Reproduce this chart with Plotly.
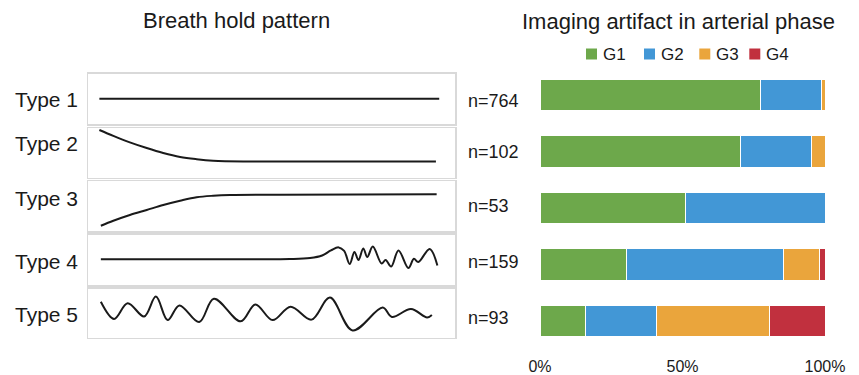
import plotly.graph_objects as go

W, H = 859, 375

# ---------------- data ----------------
types = ["Type 1", "Type 2", "Type 3", "Type 4", "Type 5"]
counts = ["n=764", "n=102", "n=53", "n=159", "n=93"]
grades = ["G1", "G2", "G3", "G4"]

# percentage of each artifact grade per breath-hold type
g1 = [77.4, 70.5, 50.9, 30.2, 16.0]
g2 = [21.2, 24.7, 49.1, 55.4, 24.7]
g3 = [1.4, 4.8, 0.0, 12.5, 39.8]
g4 = [0.0, 0.0, 0.0, 1.9, 19.5]
pct_ticks = [0, 50, 100]

# breath-hold patterns (time as % of acquisition, normalised amplitude)
t1_x = [3.1, 95.7]
t1_y = [0.0, 0.0]
t2_x = [3.1, 6.9, 11.4, 16.0, 20.5, 25.1, 29.6, 34.1, 43.2, 94.8]
t2_y = [0.92, 0.68, 0.42, 0.19, -0.01, -0.17, -0.26, -0.32, -0.35, -0.35]
t3_x = [3.5, 6.9, 11.4, 16.0, 20.5, 25.1, 29.6, 34.1, 38.7, 52.3, 95.0]
t3_y = [-0.79, -0.59, -0.36, -0.16, 0.04, 0.21, 0.35, 0.41, 0.44, 0.45, 0.47]
t4_x = [3.5, 30.5, 55.0, 60.5, 63.8, 66.2, 68.3, 69.8, 71.3, 72.6, 73.7, 75.0,
        76.1, 77.6, 80.0, 81.1, 82.6, 84.6, 87.3, 88.8, 90.0, 93.1, 95.2]
t4_y = [0.02, 0.02, 0.03, 0.07, 0.17, 0.37, 0.49, 0.35, -0.17, 0.31, -0.01, 0.45,
        0.11, 0.52, -0.15, -0.01, -0.27, 0.37, -0.33, 0.04, -0.09, 0.43, -0.23]
t5_x = [3.5, 7.1, 10.8, 15.3, 18.5, 21.7, 24.9, 30.3, 34.3, 41.6, 45.6, 50.3,
        55.2, 60.9, 65.9, 72.1, 80.3, 82.8, 88.0, 92.4, 93.7]
t5_y = [0.46, -0.24, 0.40, -0.14, 0.67, -0.29, 0.31, -0.37, 0.58, -0.34, 0.35, -0.29,
        0.26, -0.27, 0.63, -0.71, 0.22, -0.16, 0.16, -0.18, -0.08]

patterns = [(t1_x, t1_y), (t2_x, t2_y), (t3_x, t3_y), (t4_x, t4_y), (t5_x, t5_y)]

# ---------------- styling / layout constants ----------------
grade_colors = ["#6DA84B", "#4297D6", "#EAA53C", "#C1303E"]
FONT = "Liberation Sans, Arial, sans-serif"
TXT = "#1a1a1a"

panel_left, panel_right = 88, 455
panel_rows = [(73.5, 124), (128, 177.5), (181, 231), (234.5, 285), (288.5, 337.5)]
type_label_y = [100, 143.5, 198, 261.5, 314]
count_label_y = [101.5, 151.5, 206, 261.5, 317.5]
bar_left, bar_right = 540, 825
bar_top, bar_bottom = 66.75, 349.25


def fx(px):
    return px / W


def fy(py):
    return 1 - py / H


fig = go.Figure()
layout_axes = {}

for i, (xs, ys) in enumerate(patterns):
    k = i + 1
    xa = "x" if k == 1 else f"x{k}"
    ya = "y" if k == 1 else f"y{k}"
    fig.add_trace(go.Scatter(
        x=xs, y=ys, mode="lines", xaxis=xa, yaxis=ya,
        line=dict(color=TXT, width=2, shape="spline", smoothing=1.0),
        showlegend=False, hoverinfo="skip"))
    top, bot = panel_rows[i]
    common = dict(showline=True, mirror=True, linecolor="#d9d9d9", linewidth=1.5,
                  showgrid=False, zeroline=False, showticklabels=False, ticks="",
                  fixedrange=True, automargin=False)
    layout_axes["xaxis" if k == 1 else f"xaxis{k}"] = dict(
        domain=[fx(panel_left), fx(panel_right)], range=[0, 100],
        anchor=ya, **common)
    layout_axes["yaxis" if k == 1 else f"yaxis{k}"] = dict(
        domain=[fy(bot), fy(top)], range=[-1, 1], anchor=xa, **common)

for name, vals, col in zip(grades, [g1, g2, g3, g4], grade_colors):
    fig.add_trace(go.Bar(
        y=types, x=vals, name=name, orientation="h", xaxis="x6", yaxis="y6",
        marker=dict(color=col, line=dict(color="#ffffff", width=1)),
        showlegend=False))

layout_axes["xaxis6"] = dict(
    domain=[fx(bar_left), fx(bar_right)], range=[0, 100], anchor="y6",
    tickvals=pct_ticks, ticktext=[f"{v}%" for v in pct_ticks],
    showline=False, showgrid=False, zeroline=False, ticks="", automargin=False,
    ticklabelstandoff=6,
    tickfont=dict(size=16, color=TXT, family=FONT))
layout_axes["yaxis6"] = dict(
    domain=[fy(bar_bottom), fy(bar_top)], range=[4.5, -0.5], anchor="x6",
    type="category", categoryorder="array", categoryarray=types, automargin=False,
    showline=False, showgrid=False, zeroline=False, showticklabels=False, ticks="")

annotations = []
annotations.append(dict(x=fx(236.5), y=fy(20.5), xref="paper", yref="paper",
                        text="Breath hold pattern", showarrow=False,
                        xanchor="center", yanchor="middle",
                        font=dict(size=22, color=TXT, family=FONT)))
annotations.append(dict(x=fx(678.5), y=fy(21), xref="paper", yref="paper",
                        text="Imaging artifact in arterial phase", showarrow=False,
                        xanchor="center", yanchor="middle",
                        font=dict(size=22, color=TXT, family=FONT)))
for lbl, py in zip(types, type_label_y):
    annotations.append(dict(x=fx(12.5), y=fy(py), xref="paper", yref="paper",
                            text=lbl, showarrow=False, xanchor="left", yanchor="middle",
                            font=dict(size=21, color=TXT, family=FONT)))
for lbl, py in zip(counts, count_label_y):
    annotations.append(dict(x=fx(466), y=fy(py), xref="paper", yref="paper",
                            text=lbl, showarrow=False, xanchor="left", yanchor="middle",
                            font=dict(size=18, color=TXT, family=FONT)))

# manual legend
legend_sq_x = [586, 644, 699.3, 749.3]
shapes = []
for name, col, sx in zip(grades, grade_colors, legend_sq_x):
    shapes.append(dict(type="rect", xref="paper", yref="paper",
                       x0=fx(sx), x1=fx(sx + 11), y0=fy(59.5), y1=fy(48.5),
                       fillcolor=col, line=dict(width=0)))
    annotations.append(dict(x=fx(sx + 14.5), y=fy(54.5), xref="paper", yref="paper",
                            text=name, showarrow=False, xanchor="left", yanchor="middle",
                            font=dict(size=17, color=TXT, family=FONT)))

fig.update_layout(
    template="none",
    width=W, height=H, autosize=False,
    margin=dict(l=0, r=0, t=0, b=0, pad=0, autoexpand=False),
    paper_bgcolor="white", plot_bgcolor="white",
    barmode="stack", bargap=0.45,
    font=dict(family=FONT, color=TXT),
    annotations=annotations, shapes=shapes,
    showlegend=False, hovermode=False,
    **layout_axes)

fig.write_html(
    "out.html",
    config={"displayModeBar": False, "staticPlot": True},
    post_script="document.body.style.margin='0';document.body.style.overflow='hidden';")
